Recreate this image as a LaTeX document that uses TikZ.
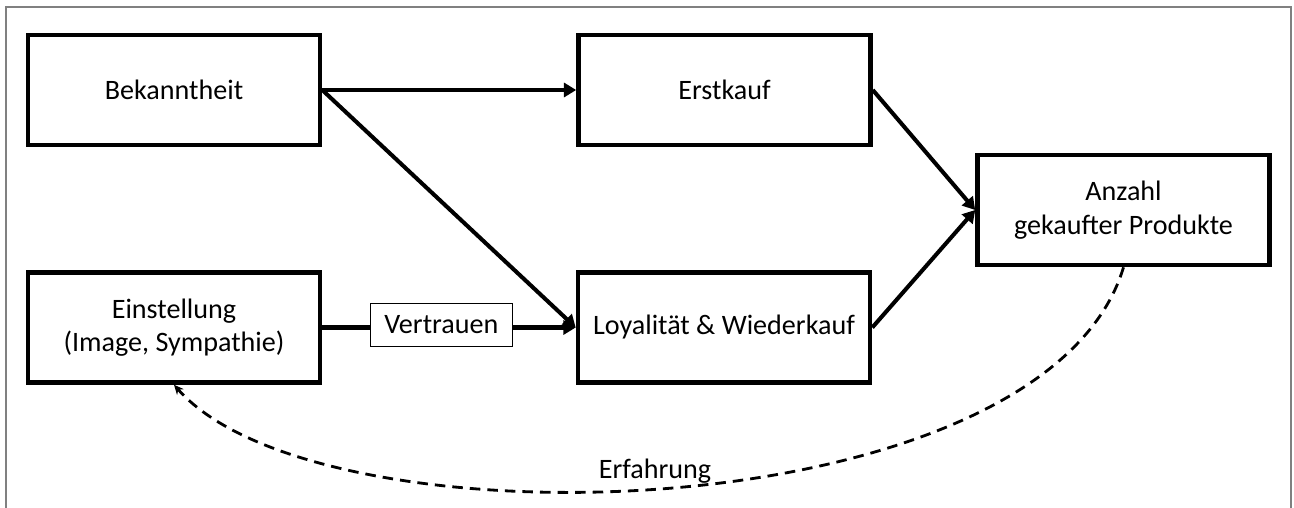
\documentclass[tikz,border=0pt]{standalone}
\usepackage{fontspec}
\setmainfont{Carlito}
\usetikzlibrary{arrows.meta}

\begin{document}
\begin{tikzpicture}[
        caixa/.style={draw, line width=2.6pt, minimum width=5.84cm, minimum height=2.2cm, align=center, font=\fontsize{16}{19}\selectfont},
        seta/.style={line width=2.3pt, -{Triangle[length=7pt,width=8pt]}},
        rotulo/.style={draw, fill=white, line width=0.6pt, minimum width=2.84cm, minimum height=0.86cm, inner sep=0pt, font=\fontsize{16}{19}\selectfont},
        tracejada/.style={line width=1.6pt, dash pattern=on 6pt off 4pt, -{Stealth[length=5.5pt,width=5pt]}}]
        % moldura, aberta em baixo
        \useasboundingbox (0,0) rectangle (25.88,-10.16);
        \draw[black!50, line width=0.6pt] (0.12,-10.16) -- (0.12,-0.14) -- (25.82,-0.14) -- (25.82,-10.16);
        % definir as caixas
        \node[caixa] (bek) at (3.48,-1.80) {Bekanntheit};
        \node[caixa] (erst) at (14.49,-1.80) {Erstkauf};
        \node[caixa] (einst) at (3.48,-6.55) {Einstellung\\(Image, Sympathie)};
        \node[caixa] (loyal) at (14.48,-6.55) {Loyalität \& Wiederkauf};
        \node[caixa] (anz) at (22.47,-4.20) {Anzahl\\gekaufter Produkte};
        % desenhar as setas
        \draw[seta] (bek.east) -- (erst.west);
        \draw[seta] (bek.east) -- (loyal.west);
        \draw[seta] (einst.east) -- node[rotulo, pos=0.47, yshift=1.5pt] (vert) {Vertrauen} (loyal.west);
        \draw[seta] (erst.east) -- (anz.west);
        \draw[seta] (loyal.east) -- (anz.west);
        % seta de volta, tracejada
        \draw[tracejada] (anz.south) .. controls +(-1.58,-5.26) and +(2.94,-3.34) .. (einst.south);
        \node[anchor=base, font=\fontsize{16}{19}\selectfont] (erf) at (13.1,-9.56) {Erfahrung};
    \end{tikzpicture}
\end{document}
